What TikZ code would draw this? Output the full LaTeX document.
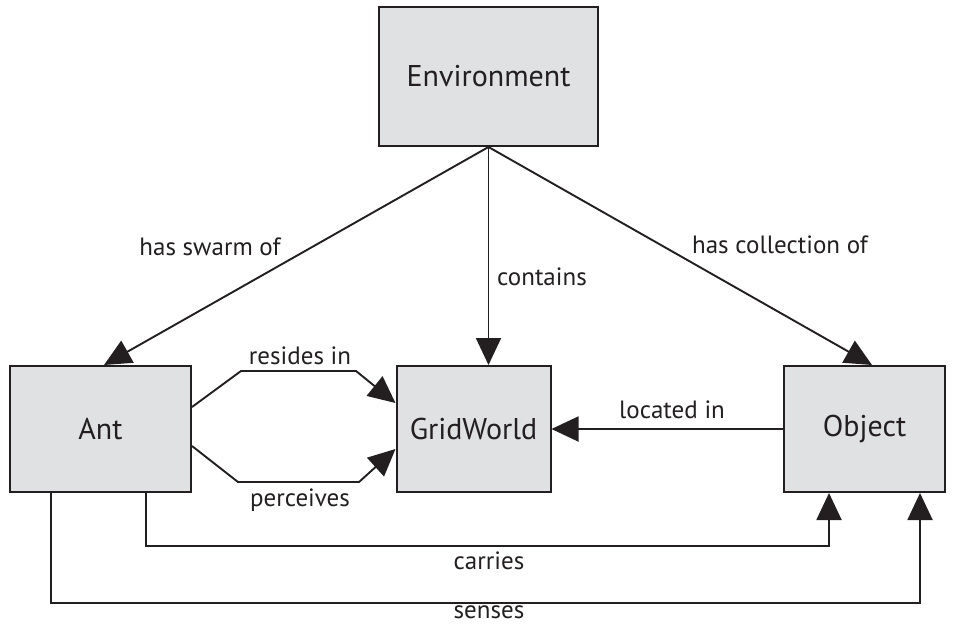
\documentclass[tikz,border=0pt]{standalone}
\usepackage{fontspec}
\setmainfont{PT Sans}
\usetikzlibrary{arrows.meta}
\definecolor{boxgray}{HTML}{E0E1E3}
\definecolor{ink}{HTML}{231F20}
\begin{document}
\begin{tikzpicture}[x=1pt,y=-1pt,
  box/.style={draw=ink, line width=2pt, fill=boxgray, inner sep=0pt, text=ink,
    font=\fontsize{30}{34}\selectfont},
  conn/.style={line width=1.9pt, draw=ink, -{Triangle[length=27pt,width=25pt]}},
  lbl/.style={font=\fontsize{25}{29}\selectfont, inner sep=0pt, text=ink}]
\useasboundingbox (0,0) rectangle (955,625);
\node[box, minimum width=219pt, minimum height=139pt] (env) at (488.5,76.5) {Environment};
\node[box, minimum width=181pt, minimum height=126pt] (ant) at (100.5,429) {Ant};
\node[box, minimum width=154pt, minimum height=126pt] (grid) at (473.5,429) {GridWorld};
\node[box, minimum width=161pt, minimum height=126pt] (obj) at (864.5,429) {Object};

\draw[conn] (env.south) -- ([xshift=95pt]ant.north west);
\draw[conn] (env.south) -- (grid.north -| env.south);
\draw[conn] (env.south) -- ([xshift=89pt]obj.north west);
\draw[conn] ([yshift=22pt]ant.east) -- ++(49,-36) -- ++(115,0) -- ([yshift=26pt]grid.west);
\draw[conn] ([yshift=-17pt]ant.east) -- ++(46,36) -- ++(121,0) -- ([yshift=-20pt]grid.west);
\draw[conn] (obj.west) -- (grid.east);
\draw[conn] ([xshift=137pt]ant.south west) -- ++(0,53) -| ([xshift=46pt]obj.south west);
\draw[conn] ([xshift=42pt]ant.south west) -- ++(0,110) -| ([xshift=137pt]obj.south west);

\node[lbl] (l1) at (210,247) {has swarm of};
\node[lbl, anchor=west] (l2) at (497,277) {contains};
\node[lbl] (l3) at (780,245) {has collection of};
\node[lbl] (l4) at (300,356) {resides in};
\node[lbl] (l5) at (300,500) {perceives};
\node[lbl] (l6) at (672,410) {located in};
\node[lbl] (l7) at (489,561) {carries};
\node[lbl] (l8) at (489,612) {senses};
\end{tikzpicture}
\end{document}
